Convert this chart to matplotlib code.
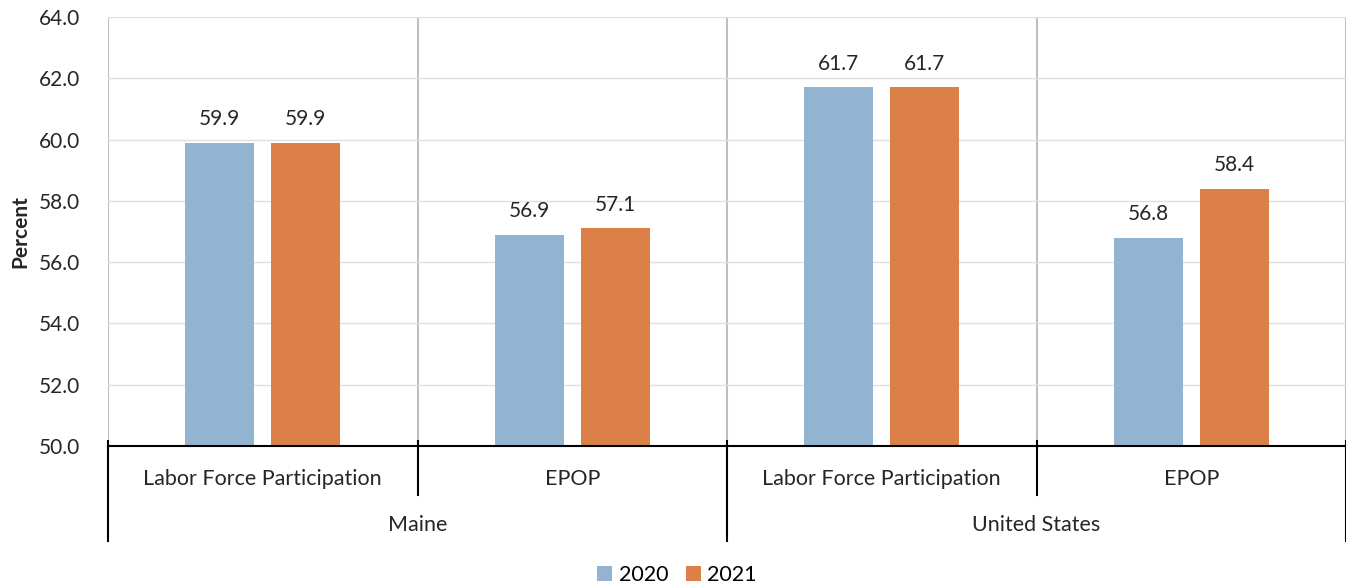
import numpy as np
import matplotlib.pyplot as plt

# ── Data ─────────────────────────────────────────────────────────────────────

measures  = ["Labor Force Participation", "EPOP", "Labor Force Participation", "EPOP"]
regions   = ["Maine", "United States"]
years     = ["2020", "2021"]
vals_2020 = [59.9, 56.9, 61.7, 56.8]
vals_2021 = [59.9, 57.1, 61.7, 58.4]

# ── Style ────────────────────────────────────────────────────────────────────

BLUE    = "#93b4d1"
ORANGE  = "#db8148"
GRID    = "#e0e0e0"
SEP     = "#bfbfbf"
TXT     = "#262626"
FONT    = "Lato"
FS      = 15.5

plt.rcParams["font.family"] = [FONT, "DejaVu Sans"]

fig = plt.figure(figsize=(13.46, 5.88), dpi=100)
ax  = fig.add_axes([108 / 1346, 1 - 446 / 588, 1 - 108 / 1346, (446 - 17) / 588])

x      = np.arange(len(measures))
width  = 0.223
offset = 0.139

b1 = ax.bar(x - offset, np.array(vals_2020) - 50, width, bottom=50, color=BLUE, label=years[0], zorder=3)
b2 = ax.bar(x + offset, np.array(vals_2021) - 50, width, bottom=50, color=ORANGE, label=years[1], zorder=3)

for bars, vals in ((b1, vals_2020), (b2, vals_2021)):
    for rect, v in zip(bars, vals):
        ax.text(rect.get_x() + rect.get_width() / 2, v + 0.45, f"{v:.1f}",
                ha="center", va="bottom", fontsize=15, color=TXT)

ax.set_xlim(-0.5, len(measures) - 0.5)
ax.set_ylim(50, 64)
ax.set_yticks(np.arange(50, 64.1, 2))
ax.set_yticklabels([f"{t:.1f}" for t in np.arange(50, 64.1, 2)], fontsize=15, color=TXT)
ax.tick_params(axis="y", length=0, pad=20)
ax.set_xticks([])
ax.set_ylabel("Percent", fontsize=15, fontweight="bold", color=TXT, labelpad=6)

ax.grid(axis="y", color=GRID, linewidth=1, zorder=0)
for s in ("top", "right", "left"):
    ax.spines[s].set_visible(False)
ax.spines["bottom"].set_color("black")
ax.spines["bottom"].set_linewidth(1.5)
ax.spines["bottom"].set_zorder(4)

# vertical separators between groups, inside the plot
for xb in np.arange(-0.5, len(measures) - 0.4, 1.0):
    ax.axvline(xb, color=SEP, linewidth=1.5, zorder=1)

# ── Multi-level category axis ────────────────────────────────────────────────

trans = ax.get_xaxis_transform()
axh   = 446 - 17
y_mid = -(495 - 446) / axh
y_low = -(541 - 446) / axh
y_tk  = 5 / axh

for i, xb in enumerate(np.arange(-0.5, len(measures) + 0.4, 1.0)):
    y_end = y_low if i % 2 == 0 else y_mid
    ax.plot([xb, xb], [y_tk, y_end], color="black", linewidth=1.5,
            transform=trans, clip_on=False, zorder=5)

for xi, m in zip(x, measures):
    ax.text(xi, -(479 - 446) / axh, m, transform=trans, ha="center", va="center",
            fontsize=FS, color=TXT)

for j, r in enumerate(regions):
    ax.text(2 * j + 0.5, -(525 - 446) / axh, r, transform=trans, ha="center", va="center",
            fontsize=FS, color=TXT)

# ── Legend ───────────────────────────────────────────────────────────────────

fig.legend(handles=[b1, b2], loc="center", bbox_to_anchor=(677 / 1346, 1 - 575 / 588),
           ncol=2, frameon=False, fontsize=15.5, handlelength=0.7, handleheight=0.7,
           handletextpad=0.3, columnspacing=0.8)

fig.savefig("out.png", dpi=100)
